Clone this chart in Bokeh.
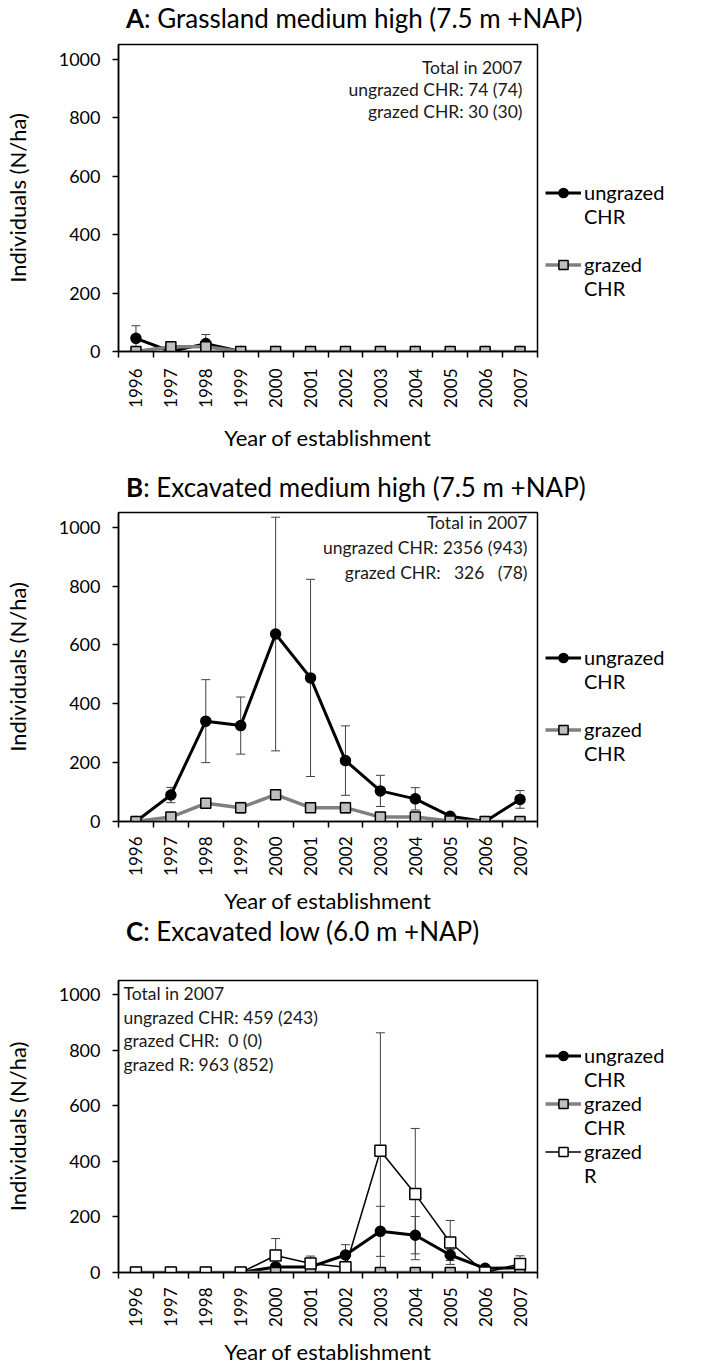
import math
from bokeh.plotting import figure
from bokeh.models import (ColumnDataSource, Whisker, Legend, LegendItem, Label,
                          FixedTicker, TeeHead, Range1d, Div)
from bokeh.layouts import column
from bokeh.embed import file_html
from bokeh.resources import INLINE

FONT = "Lato"

years = list(range(1996, 2008))
y_ticks = [0, 200, 400, 600, 800, 1000]

# Panel A: Grassland medium high
a_ungrazed = [45, 0, 27, 0, 0, 0, 0, 0, 0, 0, 0, 0]
a_ungrazed_err = [43, 0, 31, 0, 0, 0, 0, 0, 0, 0, 0, 0]
a_grazed = [0, 16, 16, 0, 0, 0, 0, 0, 0, 0, 0, 0]
a_grazed_err = [0, 0, 0, 0, 0, 0, 0, 0, 0, 0, 0, 0]

# Panel B: Excavated medium high
b_ungrazed = [0, 90, 341, 326, 637, 488, 207, 104, 77, 18, 0, 75]
b_ungrazed_err = [0, 26, 141, 97, 397, 335, 118, 53, 38, 8, 0, 30]
b_grazed = [0, 15, 62, 47, 91, 47, 47, 15, 15, 2, 0, 0]
b_grazed_err = [0, 5, 14, 18, 0, 0, 18, 0, 0, 0, 0, 0]

# Panel C: Excavated low
c_ungrazed = [0, 0, 0, 0, 20, 20, 63, 148, 134, 63, 15, 17]
c_ungrazed_err = [0, 0, 0, 0, 0, 0, 37, 90, 67, 20, 0, 0]
c_grazed = [0, 0, 0, 0, 0, 0, 0, 0, 0, 0, 0, 0]
c_grazed_err = [0, 0, 0, 0, 0, 0, 0, 0, 0, 0, 0, 0]
c_grazed_r = [0, 0, 0, 0, 61, 32, 19, 438, 282, 108, 0, 31]
c_grazed_r_err = [0, 0, 0, 0, 61, 27, 0, 424, 236, 79, 0, 29]

titles = [("A", ": Grassland medium high (7.5 m +NAP)"),
          ("B", ": Excavated medium high (7.5 m +NAP)"),
          ("C", ": Excavated low (6.0 m +NAP)")]

notes_a = ["Total in 2007", "ungrazed CHR: 74 (74)", "grazed CHR: 30 (30)"]
notes_b = ["Total in 2007", "ungrazed CHR: 2356\u00a0(943)",
           "grazed CHR:\u00a0\u00a0\u00a0326\u00a0\u00a0\u00a0(78)"]
notes_c = ["Total in 2007", "ungrazed CHR: 459\u00a0(243)",
           "grazed CHR:\u00a0\u00a00\u00a0(0)", "grazed R: 963\u00a0(852)"]

STYLES = {
    "ungrazed": dict(line_color="black", line_width=3, marker="circle",
                     fill="black", size=10),
    "grazed": dict(line_color="#808080", line_width=3.5, marker="square",
                   fill="#bfbfbf", size=10),
    "grazedR": dict(line_color="black", line_width=1.5, marker="square",
                    fill="white", size=11),
}


def add_series(p, vals, errs, style):
    st = STYLES[style]
    src = ColumnDataSource(dict(x=years, y=vals))
    ex = [x for x, e in zip(years, errs) if e > 0]
    ev = [v for v, e in zip(vals, errs) if e > 0]
    ee = [e for e in errs if e > 0]
    if ex:
        wsrc = ColumnDataSource(dict(x=ex, upper=[v + e for v, e in zip(ev, ee)],
                                     lower=[v - e for v, e in zip(ev, ee)]))
        w = Whisker(base="x", upper="upper", lower="lower", source=wsrc,
                    line_color="#404040", line_width=1,
                    upper_head=TeeHead(size=9, line_color="#404040", line_width=1),
                    lower_head=TeeHead(size=9, line_color="#404040", line_width=1),
                    level="underlay")
        p.add_layout(w)
    lr = p.line("x", "y", source=src, line_color=st["line_color"],
                line_width=st["line_width"])
    sr = p.scatter("x", "y", source=src, marker=st["marker"], size=st["size"],
                   fill_color=st["fill"], line_color="black", line_width=1.5)
    # invisible renderer used only for the second line of the legend label
    blank = p.line("x", "y", source=src, line_alpha=0)
    return [lr, sr], blank


def make_panel(series, notes, notes_align, notes_offsets, frame_h,
               bottom_b, tick_standoff, label_standoff, legend_y, spacer):
    p = figure(frame_width=419, frame_height=frame_h,
               x_range=Range1d(1995.5, 2007.5), y_range=Range1d(0, 1050),
               output_backend="svg", toolbar_location=None,
               min_border_left=118, min_border_right=170,
               min_border_top=6, min_border_bottom=bottom_b,
               background_fill_color="white", border_fill_color="white")
    p.xgrid.visible = False
    p.ygrid.visible = False
    p.outline_line_color = "black"
    p.outline_line_width = 1.5
    p.outline_line_alpha = 1

    xa = p.xaxis[0]
    xa.ticker = FixedTicker(ticks=years, minor_ticks=[y - 0.5 for y in years] + [2007.5])
    xa.major_tick_line_color = None
    xa.major_tick_out = 0
    xa.major_tick_in = 0
    xa.minor_tick_line_color = "black"
    xa.minor_tick_out = 6
    xa.minor_tick_in = 0
    xa.minor_tick_line_width = 1.5
    xa.axis_line_width = 1.5
    xa.major_label_orientation = math.pi / 2
    xa.major_label_text_font = FONT
    xa.major_label_text_font_size = "17px"
    xa.major_label_text_color = "black"
    xa.major_label_standoff = tick_standoff
    xa.axis_label = "Year of establishment"
    xa.axis_label_text_font = FONT
    xa.axis_label_text_font_size = "22px"
    xa.axis_label_text_font_style = "normal"
    xa.axis_label_text_color = "black"
    xa.axis_label_standoff = label_standoff

    ya = p.yaxis[0]
    ya.ticker = FixedTicker(ticks=y_ticks, minor_ticks=[])
    ya.major_tick_out = 6
    ya.major_tick_in = 0
    ya.major_tick_line_width = 1.5
    ya.axis_line_width = 1.5
    ya.major_label_text_font = FONT
    ya.major_label_text_font_size = "18px"
    ya.major_label_text_color = "black"
    ya.major_label_standoff = 12
    ya.axis_label = "Individuals (N/ha)"
    ya.axis_label_text_font = FONT
    ya.axis_label_text_font_size = "22px"
    ya.axis_label_text_font_style = "normal"
    ya.axis_label_text_color = "black"
    ya.axis_label_standoff = 25

    items = []
    for i, (l1, l2, vals, errs, style) in enumerate(series):
        rs, blank = add_series(p, vals, errs, style)
        if i > 0 and spacer:
            items.append(LegendItem(label="\u00a0", renderers=[blank]))
        items.append(LegendItem(label=l1, renderers=rs))
        items.append(LegendItem(label=l2, renderers=[blank]))

    leg = Legend(items=items, location=(8, legend_y), spacing=0,
                 padding=0, margin=0, border_line_color=None,
                 background_fill_alpha=0, glyph_width=36, glyph_height=23,
                 label_standoff=3, label_text_font=FONT,
                 label_text_font_size="20px", label_height=23,
                 label_text_line_height=1.0, label_text_color="black")
    p.add_layout(leg, "right")

    nx, nxo = (2007.5, notes_offsets[0]) if notes_align == "right" else (1995.5, notes_offsets[0])
    for t, off in zip(notes, notes_offsets[1]):
        p.add_layout(Label(x=nx, y=1050, x_offset=nxo, y_offset=-off, text=t,
                           text_font=FONT, text_font_size="17.5px",
                           text_baseline="middle", text_align=notes_align,
                           text_color="#1a1a1a"))
    return p


def title_div(idx, height, top):
    letter, rest = titles[idx]
    html = ('<div style="position:relative; top:%dpx; left:126px; '
            'font-family:Lato; font-size:26px; line-height:30px; '
            'white-space:nowrap; color:black;"><b>%s</b>%s</div>'
            % (top, letter, rest))
    return Div(text=html, width=714, height=height, margin=0)


pa = make_panel([("ungrazed", "CHR", a_ungrazed, a_ungrazed_err, "ungrazed"),
                 ("grazed", "CHR", a_grazed, a_grazed_err, "grazed")],
                notes_a, "right", (-15, [23, 45, 67]), 307, 102, 11, 13, 51, True)
pb = make_panel([("ungrazed", "CHR", b_ungrazed, b_ungrazed_err, "ungrazed"),
                 ("grazed", "CHR", b_grazed, b_grazed_err, "grazed")],
                notes_b, "right", (-10, [10, 35, 60]), 309, 95, 9, 8, 56, True)
pc = make_panel([("ungrazed", "CHR", c_ungrazed, c_ungrazed_err, "ungrazed"),
                 ("grazed", "CHR", c_grazed, c_grazed_err, "grazed"),
                 ("grazed", "R", c_grazed_r, c_grazed_r_err, "grazedR")],
                notes_c, "left", (5, [13, 37, 60, 84]), 292, 93, 9, 8, 85, False)

layout = column(title_div(0, 38, 3), pa,
                title_div(1, 53, 19), pb,
                title_div(2, 58, 0), pc, spacing=0)
open("out.html", "w").write(file_html(layout, INLINE))
